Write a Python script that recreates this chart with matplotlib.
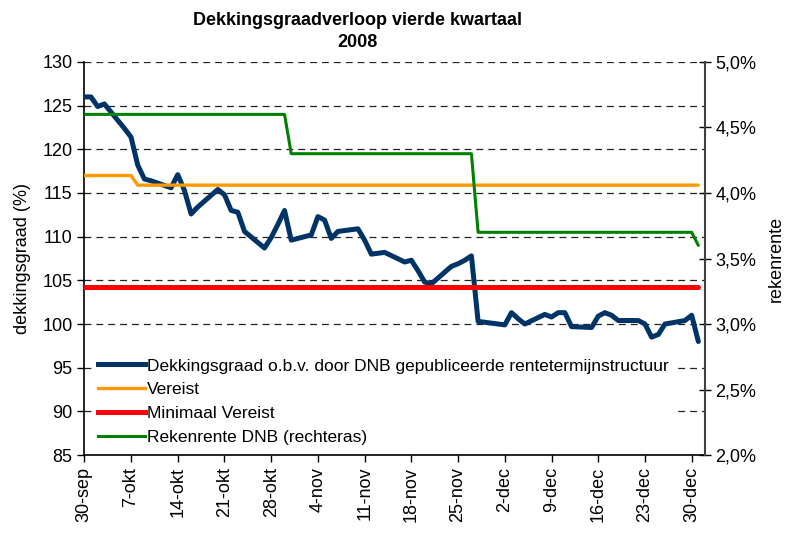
import numpy as np
import pandas as pd
import matplotlib
matplotlib.use("Agg")
import matplotlib.pyplot as plt
from matplotlib.lines import Line2D

plt.rcParams['font.family'] = ['Liberation Sans', 'DejaVu Sans']

# business days of Q4 2008
dates = pd.bdate_range('2008-09-30', '2008-12-31')

# dekkingsgraad (%), one value per business day
dekkingsgraad = [
    126.0,
    126.0, 124.9, 125.2, 122.4, 121.4, 118.2, 116.6, 116.4, 115.6, 117.1,
    115.3, 112.6, 113.4, 115.4, 114.8, 113.0, 112.8, 110.6, 108.7, 109.9,
    111.4, 113.0, 109.6,
    110.2, 112.3, 111.9, 109.8, 110.6, 110.9, 109.6, 108.0, 108.1, 108.2,
    107.1, 107.3, 106.1, 104.8, 104.6, 106.6, 106.9, 107.3, 107.8, 100.3,
    100.0, 99.9, 101.3, 100.6, 100.0, 101.1, 100.8, 101.3, 101.3, 99.7,
    99.6, 100.9, 101.3, 101.0, 100.4, 100.4, 100.0, 98.5, 98.8, 100.0,
    100.4, 101.0, 98.0,
]

vereist_dates = ['2008-09-30', '2008-10-07', '2008-10-08', '2008-12-31']
vereist = [117.0, 117.0, 115.9, 115.9]

minimaal_dates = ['2008-09-30', '2008-12-31']
minimaal = [104.25, 104.25]

rente_dates = ['2008-09-30', '2008-10-30', '2008-10-31', '2008-11-27',
               '2008-11-28', '2008-12-30', '2008-12-31']
rekenrente = [4.6, 4.6, 4.3, 4.3, 3.7, 3.7, 3.6]

tick_dates = pd.date_range('2008-09-30', '2008-12-30', freq='7D')
tick_labels = ['30-sep', '7-okt', '14-okt', '21-okt', '28-okt', '4-nov', '11-nov',
               '18-nov', '25-nov', '2-dec', '9-dec', '16-dec', '23-dec', '30-dec']

labels = ['Dekkingsgraad o.b.v. door DNB gepubliceerde rentetermijnstructuur',
          'Vereist', 'Minimaal Vereist', 'Rekenrente DNB (rechteras)']
colors = ['#003366', '#FF9900', '#FF0000', '#008000']
widths = [3.6, 2.4, 3.6, 2.2]

fig = plt.figure(figsize=(7.88, 5.33), dpi=100)
ax = fig.add_axes([0.107, 0.1463, 0.7877, 0.7374])
ax2 = ax.twinx()

kw = dict(solid_joinstyle='round', solid_capstyle='round')
ax.plot(dates, dekkingsgraad, color=colors[0], lw=widths[0], zorder=3, **kw)
ax.plot(pd.to_datetime(vereist_dates), vereist, color=colors[1], lw=widths[1], zorder=4, **kw)
ax.plot(pd.to_datetime(minimaal_dates), minimaal, color=colors[2], lw=widths[2], zorder=5, **kw)
ax2.plot(pd.to_datetime(rente_dates), rekenrente, color=colors[3], lw=widths[3], **kw)

ax.set_xlim(pd.Timestamp('2008-09-30'), pd.Timestamp('2009-01-01'))
ax.set_ylim(85, 130)
ax.set_yticks(np.arange(85, 131, 5))
ax2.set_ylim(2.0, 5.0)
ax2.set_yticks(np.arange(2.0, 5.01, 0.5))
ax2.set_yticklabels([f"{v:.1f}%".replace('.', ',') for v in np.arange(2.0, 5.01, 0.5)])

ax.set_xticks(tick_dates)
ax.set_xticklabels(tick_labels, rotation=90)

ax.yaxis.grid(True, color='#222222', lw=0.9, linestyle=(0, (5.5, 4)))
ax.set_axisbelow(True)

for a in (ax, ax2):
    a.spines['top'].set_visible(False)
    a.tick_params(labelsize=13, length=5, width=1)
ax.spines['right'].set_visible(False)
ax.spines['left'].set_linewidth(1.2)
ax.spines['bottom'].set_linewidth(1.2)
ax2.spines['left'].set_visible(False)
ax2.spines['bottom'].set_visible(False)
ax2.spines['right'].set_color('#404040')
ax2.spines['right'].set_linewidth(1.5)
ax2.tick_params(axis='y', direction='inout', length=8)

ax.set_ylabel('dekkingsgraad (%)', fontsize=13, labelpad=8)
ax2.set_ylabel('rekenrente', fontsize=13, labelpad=8)

fig.text(0.454, 0.941, 'Dekkingsgraadverloop vierde kwartaal\n2008',
         ha='center', va='center', fontsize=13, fontweight='bold', linespacing=1.4)

handles = [Line2D([], [], color=c, lw=w) for c, w in zip(colors, widths)]
leg = ax2.legend(handles, labels, loc='lower left', bbox_to_anchor=(0.0, -0.01),
                 fontsize=12.5, frameon=True, fancybox=False, framealpha=1,
                 handlelength=2.7, handletextpad=0.1, labelspacing=0.5,
                 borderpad=0.3)
leg.get_frame().set_edgecolor('none')
leg.get_frame().set_facecolor('white')

fig.savefig('out.png', dpi=100)
